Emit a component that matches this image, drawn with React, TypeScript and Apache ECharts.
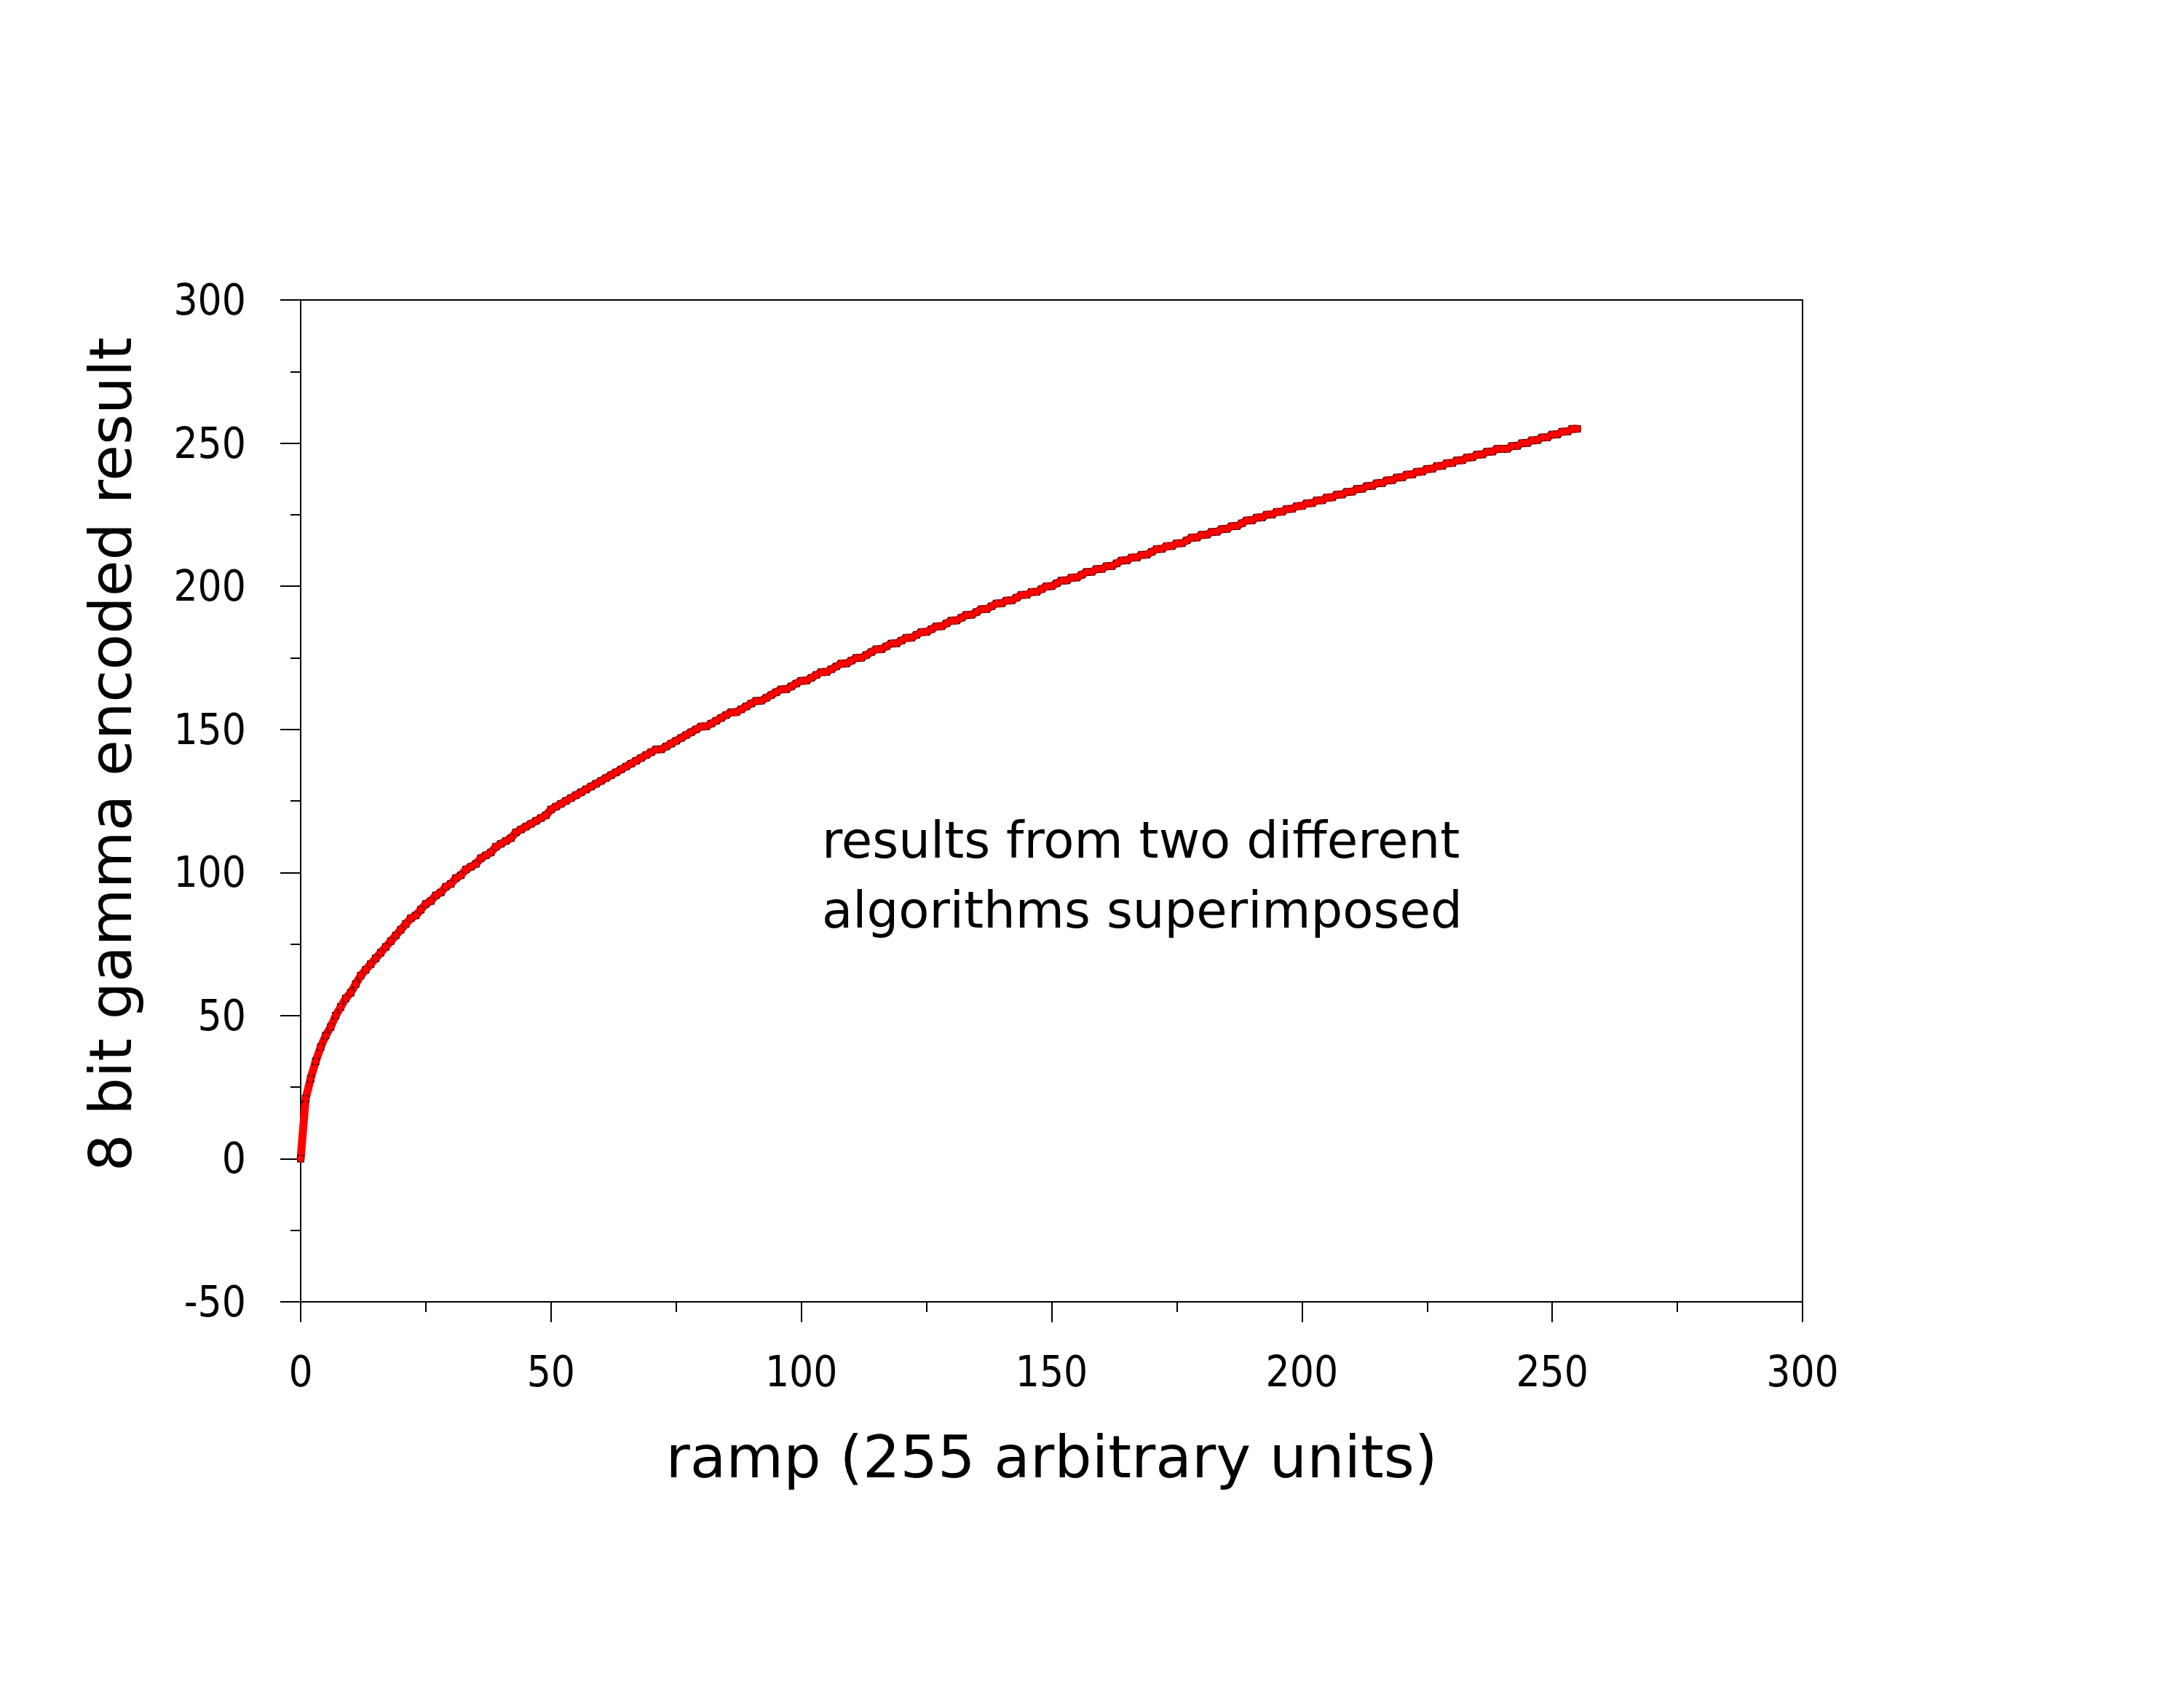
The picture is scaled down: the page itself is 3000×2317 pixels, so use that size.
import React, { useEffect, useRef } from 'react'
import * as echarts from 'echarts'

// 8 bit output for each ramp step 0..255 (both algorithms give the same values)
const gammaEncoded = [
  0, 21, 28, 34, 39, 43, 46, 50, 53, 56,
  58, 61, 64, 66, 68, 70, 72, 74, 76, 78,
  80, 82, 84, 85, 87, 89, 90, 92, 93, 95,
  96, 98, 99, 101, 102, 103, 105, 106, 107, 109,
  110, 111, 112, 114, 115, 116, 117, 118, 119, 120,
  122, 123, 124, 125, 126, 127, 128, 129, 130, 131,
  132, 133, 134, 135, 136, 137, 138, 139, 140, 141,
  142, 143, 143, 144, 145, 146, 147, 148, 149, 150,
  151, 151, 152, 153, 154, 155, 156, 156, 157, 158,
  159, 160, 160, 161, 162, 163, 164, 164, 165, 166,
  167, 167, 168, 169, 170, 170, 171, 172, 173, 173,
  174, 175, 175, 176, 177, 178, 178, 179, 180, 180,
  181, 182, 182, 183, 184, 184, 185, 186, 186, 187,
  188, 188, 189, 190, 190, 191, 192, 192, 193, 194,
  194, 195, 195, 196, 197, 197, 198, 198, 199, 200,
  200, 201, 202, 202, 203, 203, 204, 205, 205, 206,
  206, 207, 207, 208, 209, 209, 210, 210, 211, 211,
  212, 213, 213, 214, 214, 215, 215, 216, 217, 217,
  218, 218, 219, 219, 220, 220, 221, 221, 222, 223,
  223, 224, 224, 225, 225, 226, 226, 227, 227, 228,
  228, 229, 229, 230, 230, 231, 231, 232, 232, 233,
  233, 234, 234, 235, 235, 236, 236, 237, 237, 238,
  238, 239, 239, 240, 240, 241, 241, 242, 242, 243,
  243, 244, 244, 245, 245, 246, 246, 247, 247, 248,
  248, 248, 249, 249, 250, 250, 251, 251, 252, 252,
  253, 253, 254, 254, 255, 255
]

const xRange = [0, 300]
const yRange = [-50, 300]
const tickStep = 50

const xTitle = 'ramp (255 arbitrary units)'
const yTitle = '8 bit gamma encoded result'
const note = 'results from two different\nalgorithms superimposed'

const tickFont = 'DejaVu Sans Condensed'
const titleFont = 'DejaVu Sans'

const App: React.FC = () => {
  const chartRef = useRef<HTMLDivElement>(null)

  useEffect(() => {
    if (!chartRef.current) return
    const chart = echarts.init(chartRef.current, undefined, { renderer: 'svg' })

    // ramp step is the index of the value
    const points = gammaEncoded.map((v, i) => [i, v])

    const axisCommon = {
      type: 'value' as const,
      interval: tickStep,
      axisLine: { show: true, onZero: false, lineStyle: { color: '#000', width: 2 } },
      axisTick: { show: true, inside: false, length: 28, lineStyle: { color: '#000', width: 2 } },
      minorTick: { show: true, splitNumber: 2, length: 14, lineStyle: { color: '#000', width: 2 } },
      splitLine: { show: false },
      minorSplitLine: { show: false }
    }

    const option: echarts.EChartsOption = {
      animation: false,
      backgroundColor: '#ffffff',
      grid: {
        left: 413,
        top: 412,
        width: 2063,
        height: 1376,
        show: true,
        borderColor: '#000',
        borderWidth: 2,
        backgroundColor: 'transparent'
      },
      xAxis: {
        ...axisCommon,
        min: xRange[0],
        max: xRange[1],
        axisLabel: { margin: 67, fontSize: 58, fontFamily: tickFont, color: '#000' },
        name: xTitle,
        nameLocation: 'middle',
        nameGap: 172,
        nameTextStyle: { fontSize: 81, fontFamily: titleFont, color: '#000' }
      },
      yAxis: {
        ...axisCommon,
        min: yRange[0],
        max: yRange[1],
        axisLabel: { margin: 75, fontSize: 58, fontFamily: tickFont, color: '#000' }
      },
      series: [
        {
          name: 'algorithm 1',
          type: 'line',
          data: points,
          silent: true,
          symbol: 'rect',
          symbolSize: 10,
          itemStyle: { color: '#000' },
          lineStyle: { color: '#000', width: 8 }
        },
        {
          name: 'algorithm 2',
          type: 'line',
          data: points,
          silent: true,
          symbol: 'circle',
          symbolSize: 10,
          itemStyle: { color: '#ff0000' },
          lineStyle: { color: '#ff0000', width: 11, cap: 'round' }
        }
      ],
      graphic: [
        {
          type: 'text',
          x: 152,
          y: 1036,
          rotation: Math.PI / 2,
          style: {
            text: yTitle,
            fontSize: 81,
            fontFamily: titleFont,
            fill: '#000',
            align: 'center',
            verticalAlign: 'middle'
          }
        },
        {
          type: 'text',
          x: 1129,
          y: 1106,
          style: {
            text: note,
            fontSize: 69,
            lineHeight: 96,
            fontFamily: titleFont,
            fill: '#000',
            align: 'left',
            verticalAlign: 'top'
          }
        }
      ]
    }

    chart.setOption(option)

    return () => {
      chart.dispose()
    }
  }, [])

  return (
    <div
      ref={chartRef}
      style={{ position: 'absolute', left: 0, top: 0, width: 3000, height: 2317, background: '#fff' }}
    />
  )
}

export default App
